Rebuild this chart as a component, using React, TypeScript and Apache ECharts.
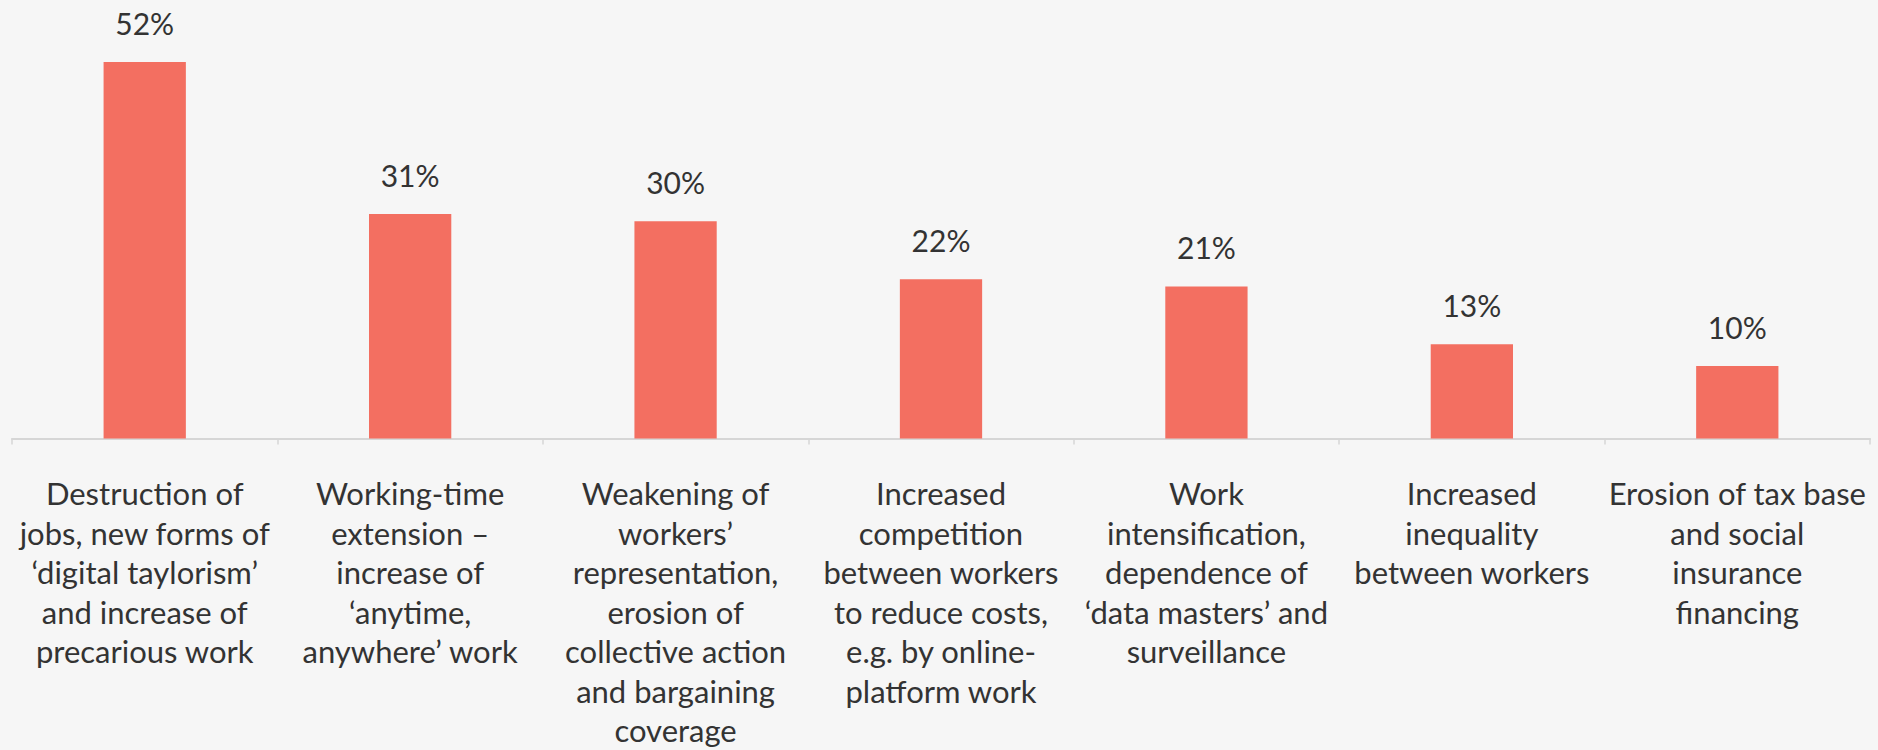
import React, { useEffect, useRef } from "react";
import * as echarts from "echarts";

const categories: string[] = [
  "Destruction of\njobs, new forms of\n‘digital taylorism’\nand increase of\nprecarious work",
  "Working-time\nextension –\nincrease of\n‘anytime,\nanywhere’ work",
  "Weakening of\nworkers’\nrepresentation,\nerosion of\ncollective action\nand bargaining\ncoverage",
  "Increased\ncompetition\nbetween workers\nto reduce costs,\ne.g. by online-\nplatform work",
  "Work\nintensification,\ndependence of\n‘data masters’ and\nsurveillance",
  "Increased\ninequality\nbetween workers",
  "Erosion of tax base\nand social\ninsurance\nfinancing",
];

const values: number[] = [52, 31, 30, 22, 21, 13, 10];

export default function App() {
  const ref = useRef<HTMLDivElement>(null);
  useEffect(() => {
    if (!ref.current) return;
    const chart = echarts.init(ref.current, null, { renderer: "svg" });
    chart.setOption({
      animation: false,
      backgroundColor: "#f6f6f6",
      grid: { left: 12, right: 8, top: 4, bottom: 309, containLabel: false },
      xAxis: {
        type: "category",
        data: categories,
        axisLine: { show: true, lineStyle: { color: "#d6d6d6", width: 2 } },
        axisTick: { show: true, length: 6, lineStyle: { color: "#d6d6d6", width: 1.5 } },
        axisLabel: {
          interval: 0,
          margin: 35,
          color: "#333333",
          fontFamily: "Lato, 'Open Sans', sans-serif",
          fontSize: 31,
          lineHeight: 39.5,
          align: "center",
        },
      },
      yAxis: {
        type: "value",
        min: 0,
        max: 60,
        show: false,
        splitLine: { show: false },
      },
      series: [
        {
          type: "bar",
          data: values,
          barWidth: "31%",
          itemStyle: { color: "#f36f61" },
          label: {
            show: true,
            position: "top",
            distance: 24,
            formatter: "{c}%",
            color: "#333333",
            fontFamily: "Lato, 'Open Sans', sans-serif",
            fontSize: 30,
          },
        },
      ],
    });
    return () => chart.dispose();
  }, []);
  return (
    <div
      ref={ref}
      style={{ position: "fixed", left: 0, top: 0, width: 1878, height: 750 }}
    />
  );
}
